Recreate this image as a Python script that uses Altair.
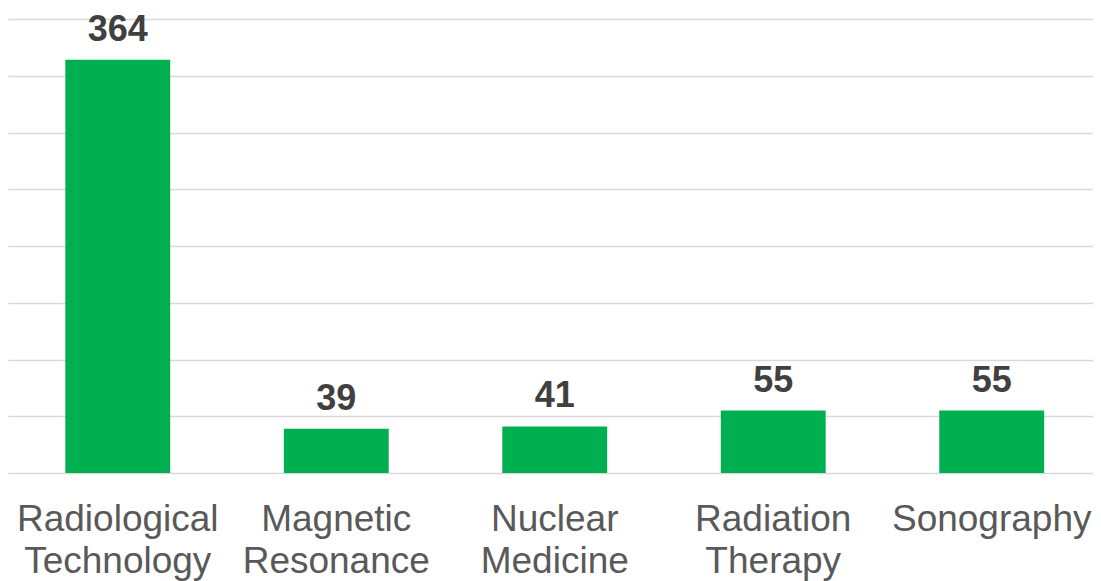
import altair as alt
import pandas as pd

categories = ["Radiological Technology", "Magnetic Resonance", "Nuclear Medicine", "Radiation Therapy", "Sonography"]
values = [364, 39, 41, 55, 55]
grid_values = [0, 50, 100, 150, 200, 250, 300, 350, 400]

df = pd.DataFrame({"category": categories, "value": values})

x = alt.X("category:N", sort=categories,
          scale=alt.Scale(paddingInner=0.52, paddingOuter=0.243, align=0.54),
          axis=alt.Axis(title=None, labelAngle=0, labelFontSize=37, labelColor="#595959",
                        labelFont="Liberation Sans", labelLineHeight=42, labelPadding=28,
                        labelExpr="split(datum.label, ' ')", ticks=False, domain=False,
                        labelLimit=300))
y = alt.Y("value:Q", scale=alt.Scale(domain=[0, 400], nice=False),
          axis=alt.Axis(title=None, labels=False, ticks=False, domain=False,
                        values=grid_values,
                        gridColor="#D9D9D9", gridWidth=1.5))

base = alt.Chart(df).encode(x=x, y=y)
bars = base.mark_bar(color="#00B050")
text = base.mark_text(baseline="alphabetic", dy=-19, fontSize=36, fontWeight="bold",
                      color="#404040", font="Liberation Sans").encode(text="value:Q")

chart = (bars + text).properties(
    width=1085, height=454,
    autosize=alt.AutoSizeParams(type="none"),
    padding={"left": 0, "top": 11, "right": 0, "bottom": 108},
).configure_view(stroke=None)

chart.save("out.html", embed_options={"renderer": "svg", "actions": False})
